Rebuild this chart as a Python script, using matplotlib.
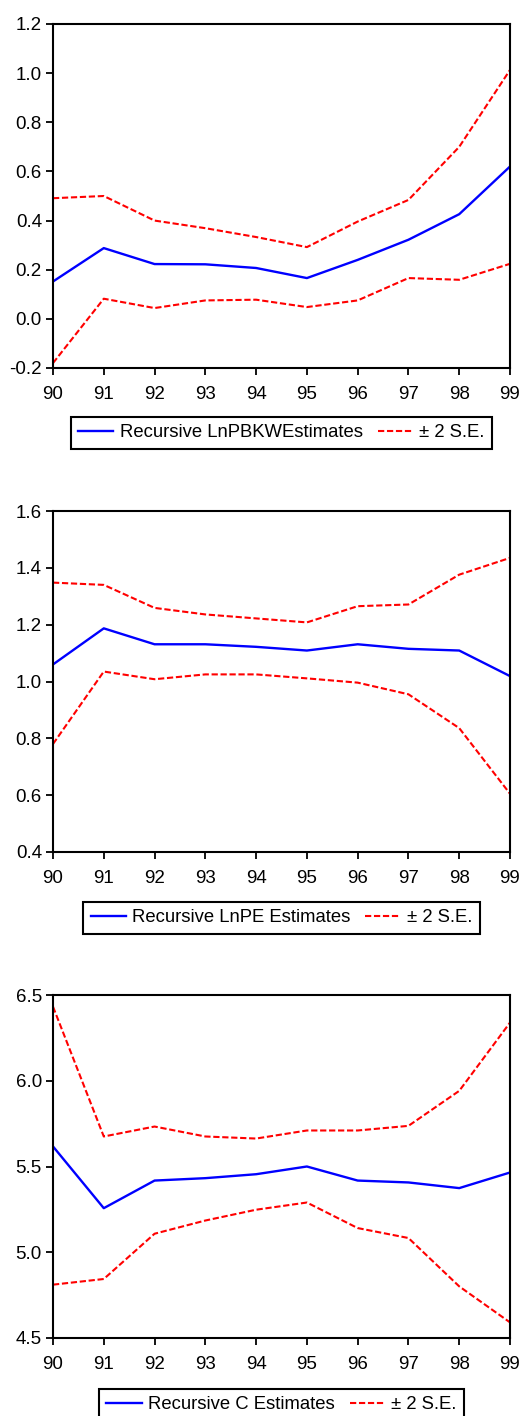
import matplotlib
matplotlib.use("Agg")
import matplotlib.pyplot as plt
from matplotlib.lines import Line2D
from matplotlib.ticker import FormatStrFormatter

plt.rcParams['font.family'] = ['Liberation Sans', 'DejaVu Sans']

years = [90, 91, 92, 93, 94, 95, 96, 97, 98, 99]
year_labels = ["90", "91", "92", "93", "94", "95", "96", "97", "98", "99"]

# Panel 1: LnPBKW
pbkw_est = [0.152, 0.288, 0.223, 0.222, 0.207, 0.166, 0.24, 0.322, 0.426, 0.62]
pbkw_upper = [0.491, 0.50, 0.40, 0.369, 0.333, 0.292, 0.396, 0.484, 0.70, 1.013]
pbkw_lower = [-0.18, 0.082, 0.044, 0.075, 0.078, 0.048, 0.075, 0.166, 0.159, 0.224]

# Panel 2: LnPE
pe_est = [1.060, 1.187, 1.131, 1.131, 1.122, 1.109, 1.131, 1.115, 1.109, 1.019]
pe_upper = [1.348, 1.340, 1.259, 1.236, 1.222, 1.208, 1.265, 1.271, 1.376, 1.435]
pe_lower = [0.780, 1.035, 1.008, 1.025, 1.025, 1.011, 0.996, 0.955, 0.836, 0.605]

# Panel 3: C
c_est = [5.617, 5.257, 5.418, 5.432, 5.455, 5.500, 5.418, 5.407, 5.374, 5.465]
c_upper = [6.432, 5.675, 5.733, 5.675, 5.663, 5.710, 5.710, 5.737, 5.941, 6.339]
c_lower = [4.811, 4.844, 5.108, 5.185, 5.248, 5.290, 5.141, 5.083, 4.801, 4.591]

legend_labels = ["Recursive LnPBKWEstimates", "Recursive LnPE Estimates", "Recursive C Estimates"]
se_label = "\u00b1 2 S.E."

panels = [
    (pbkw_est, pbkw_upper, pbkw_lower, (-0.2, 1.2), [-0.2, 0.0, 0.2, 0.4, 0.6, 0.8, 1.0, 1.2]),
    (pe_est, pe_upper, pe_lower, (0.4, 1.6), [0.4, 0.6, 0.8, 1.0, 1.2, 1.4, 1.6]),
    (c_est, c_upper, c_lower, (4.5, 6.5), [4.5, 5.0, 5.5, 6.0, 6.5]),
]

W, H = 524, 1416
fig = plt.figure(figsize=(W / 100, H / 100), dpi=100)

# axes boxes in pixels: (left, top, right, bottom)
boxes = [(53, 24, 510, 368), (53, 511, 510, 852), (53, 995, 510, 1338)]
legend_tops = [417, 902, 1389]

blue = '#0000ff'
red = '#ff0000'
dash = (0, (3, 1.3))

for i, ((est, up, lo, ylim, yticks), (l, t, r, b)) in enumerate(zip(panels, boxes)):
    ax = fig.add_axes([l / W, 1 - b / H, (r - l) / W, (b - t) / H])
    ax.plot(years, est, color=blue, lw=1.7)
    ax.plot(years, up, color=red, lw=1.5, linestyle=dash)
    ax.plot(years, lo, color=red, lw=1.5, linestyle=dash)
    ax.set_xlim(90, 99)
    ax.set_ylim(*ylim)
    ax.set_xticks(years)
    ax.set_xticklabels(year_labels)
    ax.set_yticks(yticks)
    ax.yaxis.set_major_formatter(FormatStrFormatter('%.1f'))
    for s in ax.spines.values():
        s.set_linewidth(1.5)
        s.set_color('black')
    ax.tick_params(axis='both', which='major', direction='out', length=5, width=1.3,
                   labelsize=13.5, colors='black', top=False, right=False)
    ax.tick_params(axis='x', pad=8)
    ax.tick_params(axis='y', pad=3)

    handles = [Line2D([], [], color=blue, lw=1.7),
               Line2D([], [], color=red, lw=1.5, linestyle=dash)]
    leg = fig.legend(handles, [legend_labels[i], se_label], ncol=2,
                     loc='upper center',
                     bbox_to_anchor=((l + r) / 2 / W, 1 - legend_tops[i] / H),
                     frameon=True, fancybox=False, shadow=False,
                     fontsize=13.3, handlelength=1.9, handletextpad=0.35,
                     columnspacing=0.8, borderpad=0.4, borderaxespad=0,
                     handleheight=0.7)
    fr = leg.get_frame()
    fr.set_edgecolor('black')
    fr.set_linewidth(1.5)
    fr.set_alpha(1)

fig.savefig('out.png', dpi=100)
